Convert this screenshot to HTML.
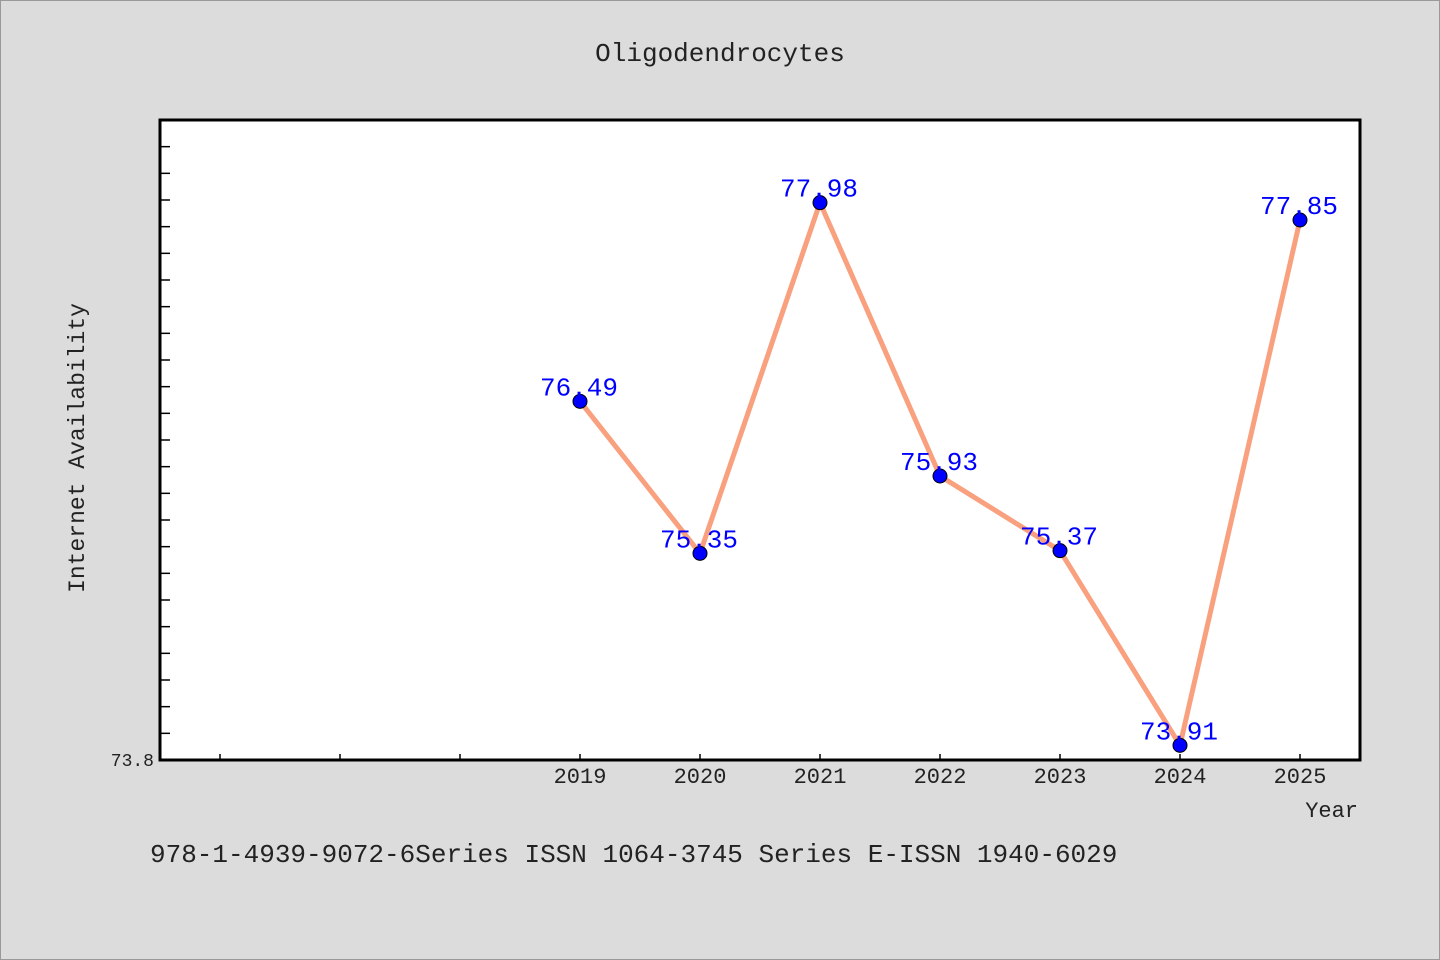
<!DOCTYPE html>
<html><head><meta charset="utf-8"><style>
body{margin:0;background:#dcdcdc;}
svg{display:block;font-family:"Liberation Mono","DejaVu Sans Mono",monospace;}
</style></head><body>
<svg id="chart" width="1440" height="960" xmlns="http://www.w3.org/2000/svg">
<rect x="0.5" y="0.5" width="1439" height="959" fill="#dcdcdc" stroke="#999"/>
<text x="720" y="61" text-anchor="middle" font-size="26" fill="#222">Oligodendrocytes</text>
<rect x="160" y="120" width="1200" height="640" fill="#fff"/>
<g id="ticks"></g>
<g id="series"></g>
<rect x="160" y="120" width="1200" height="640" fill="none" stroke="#000" stroke-width="3"/>
<text transform="translate(84,448) rotate(-90)" text-anchor="middle" font-size="23" fill="#222">Internet Availability</text>
<text x="1358" y="817" text-anchor="end" font-size="22" fill="#222">Year</text>
<text x="150" y="862" font-size="26" fill="#222">978-1-4939-9072-6Series ISSN 1064-3745 Series E-ISSN 1940-6029</text>
</svg>
<script>
const categories=["","","","2019","2020","2021","2022","2023","2024","2025"];
const years=["2019","2020","2021","2022","2023","2024","2025"];
const values=[76.49,75.35,77.98,75.93,75.37,73.91,77.85];
const yMin=73.8,yMax=78.6,yStep=0.2;
const NS="http://www.w3.org/2000/svg";
const L=160,R=1360,T=120,B=760;
const x=i=>L+60+i*(R-L)/categories.length;
const y=v=>B-(v-yMin)/(yMax-yMin)*(B-T);
function mk(t,a,p){const e=document.createElementNS(NS,t);for(const k in a)e.setAttribute(k,a[k]);p.appendChild(e);return e;}
const tk=document.getElementById('ticks');
const n=Math.round((yMax-yMin)/yStep);
for(let i=1;i<n;i++){const yy=y(yMin+i*yStep);
const l=mk('line',{x1:L,x2:L+10,y1:yy,y2:yy,stroke:'#000','stroke-width':1.5},tk);

}
const yl=mk('text',{x:L-6,y:B+6,'text-anchor':'end','font-size':18,fill:'#222'},tk);yl.textContent=yMin.toFixed(1);


categories.forEach((c,i)=>{const xx=x(i);
const l=mk('line',{x1:xx,x2:xx,y1:B,y2:B-6,stroke:'#000','stroke-width':1.5},tk);


if(c){const t=mk('text',{x:xx,y:B+23,'text-anchor':'middle','font-size':22,fill:'#222'},tk);t.textContent=c;

}});
const sg=document.getElementById('series');
const xi=yr=>x(categories.indexOf(yr));
const pts=years.map((yr,i)=>xi(yr)+','+y(values[i])).join(' ');
const pl=mk('polyline',{points:pts,fill:'none',stroke:'#f9a07e','stroke-width':5,'stroke-linejoin':'round'},sg);


years.forEach((yr,i)=>{const cx=xi(yr),cy=y(values[i]);
const c=mk('circle',{cx:cx,cy:cy,r:7,fill:'#0000ff',stroke:'#000','stroke-width':1},sg);


const t=mk('text',{x:cx-1,y:cy-6,'text-anchor':'middle','font-size':26,fill:'#0000ff'},sg);t.textContent=values[i].toFixed(2);

});
</script>
</body></html>
